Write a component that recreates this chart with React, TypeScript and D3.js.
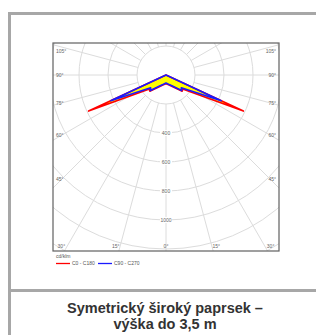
import { useEffect, useRef } from "react";
import * as d3 from "d3";

// photometric data, angle from nadir (deg) -> cd/klm
const angles = [0, 15, 30, 45, 50, 65, 70, 90];
const c0c180 = [60, 70, 93, 158, 150, 589, 0, 0];
const c90c270 = [55, 66, 88, 152, 138, 420, 0, 0];

const ringValues = [200, 400, 600, 800, 1000, 1200, 1400];
const ringLabels = [400, 600, 800, 1000];
const sideAngles = [45, 60, 75, 90, 105];
const bottomAngles = [30, 15, 0, 15, 30];
const bottomSides = [-1, -1, 0, 1, 1];

const unitLabel = "cd/klm";
const seriesNames = ["C0 - C180", "C90 - C270"];
const titleLines = ["Symetrický široký paprsek –", "výška do 3,5 m"];

export default function App() {
  const svgRef = useRef<SVGSVGElement>(null);

  useEffect(() => {
    if (!svgRef.current) return;
    const svg = d3.select(svgRef.current);
    svg.selectAll("*").remove();

    const W = 316;
    const H = 335;
    const box = { left: 53, right: 279, top: 43, bottom: 251 };
    const cx = 166;
    const cy = 75;
    const r = d3.scaleLinear().domain([0, 200]).range([0, 29]);
    const rad = (deg: number) => (deg * Math.PI) / 180;
    const font = "'Liberation Sans', Arial, sans-serif";
    const small = 5;

    // outer frame
    const frame = svg.append("g").attr("fill", "none").attr("stroke", "#a7a7a7").attr("stroke-width", 3);
    frame.append("line").attr("x1", 8).attr("x2", W + 2).attr("y1", 13.5).attr("y2", 13.5);
    frame.append("line").attr("x1", 9.5).attr("x2", 9.5).attr("y1", 12).attr("y2", H + 2);
    frame.append("line").attr("x1", 8).attr("x2", W + 2).attr("y1", 290.5).attr("y2", 290.5);

    svg.append("defs").append("clipPath").attr("id", "plotClip")
      .append("rect")
      .attr("x", box.left).attr("y", box.top)
      .attr("width", box.right - box.left).attr("height", box.bottom - box.top);

    const plot = svg.append("g").attr("clip-path", "url(#plotClip)");

    // grid rings
    plot.append("g").selectAll("circle").data(ringValues).join("circle")
      .attr("cx", cx).attr("cy", cy).attr("r", (d) => r(d))
      .attr("fill", "none").attr("stroke", "#dcdcdc").attr("stroke-width", 1);

    // radial lines every 15 deg
    const spokes = d3.range(0, 360, 15);
    plot.append("g").selectAll("line").data(spokes).join("line")
      .attr("x1", (d) => cx + r(200) * Math.sin(rad(d)))
      .attr("y1", (d) => cy + r(200) * Math.cos(rad(d)))
      .attr("x2", (d) => cx + r(2000) * Math.sin(rad(d)))
      .attr("y2", (d) => cy + r(2000) * Math.cos(rad(d)))
      .attr("stroke", "#dcdcdc").attr("stroke-width", 1);

    // curves: left half (C180 / C270) then right half (C0 / C90)
    const buildPts = (vals: number[]) => {
      const left = angles.map((a, i) => [Math.PI + rad(a), r(vals[i])] as [number, number]).reverse();
      const right = angles.map((a, i) => [Math.PI - rad(a), r(vals[i])] as [number, number]);
      return left.concat(right);
    };
    const radial = d3.lineRadial<[number, number]>()
      .angle((d) => d[0])
      .radius((d) => d[1])
      .curve(d3.curveLinearClosed);

    const curves = plot.append("g").attr("transform", `translate(${cx},${cy})`);
    curves.append("path").attr("d", radial(buildPts(c0c180))).attr("fill", "#ffff00").attr("stroke", "none");
    curves.append("path").attr("d", radial(buildPts(c0c180)))
      .attr("fill", "none").attr("stroke", "#ff0000").attr("stroke-width", 1.6).attr("stroke-linejoin", "round");
    curves.append("path").attr("d", radial(buildPts(c90c270)))
      .attr("fill", "none").attr("stroke", "#1a1aff").attr("stroke-width", 1.6).attr("stroke-linejoin", "round");

    // ring value labels on 0 deg line
    const rl = plot.append("g").selectAll("g").data(ringLabels).join("g")
      .attr("transform", (d) => `translate(${cx},${cy + r(d)})`);
    rl.append("rect").attr("x", -6).attr("y", -3).attr("width", 12).attr("height", 6).attr("fill", "#fff");
    rl.append("text").text((d) => d)
      .attr("text-anchor", "middle").attr("dy", "0.35em")
      .attr("font-family", font).attr("font-size", small).attr("fill", "#666");

    // side angle labels
    const sideDx = 104;
    const sideY = (a: number) => Math.max(box.top + 8, cy + sideDx / Math.tan(rad(a)));
    const lbl = svg.append("g").attr("font-family", font).attr("font-size", small).attr("fill", "#666");
    lbl.selectAll("text.l").data(sideAngles).join("text").attr("class", "l")
      .attr("x", box.left + 3).attr("y", (d) => sideY(d)).attr("dy", "0.35em")
      .text((d) => `${d}°`);
    lbl.selectAll("text.r").data(sideAngles).join("text").attr("class", "r")
      .attr("x", box.right - 3).attr("y", (d) => sideY(d)).attr("dy", "0.35em")
      .attr("text-anchor", "end")
      .text((d) => `${d}°`);
    lbl.selectAll("text.b").data(bottomAngles).join("text").attr("class", "b")
      .attr("x", (d, i) => cx + bottomSides[i] * ((box.bottom - cy) * Math.tan(rad(d)) + 3))
      .attr("y", box.bottom - 3.5)
      .attr("text-anchor", "middle")
      .text((d) => `${d}°`);

    // plot border
    svg.append("rect")
      .attr("x", box.left).attr("y", box.top)
      .attr("width", box.right - box.left).attr("height", box.bottom - box.top)
      .attr("fill", "none").attr("stroke", "#606060").attr("stroke-width", 1.2);

    // legend
    const lg = svg.append("g").attr("font-family", font).attr("font-size", small).attr("fill", "#555");
    lg.append("text").attr("x", box.left + 3).attr("y", 258).text(unitLabel);
    const legendItems = [
      { name: seriesNames[0], color: "#ff0000", x: 56 },
      { name: seriesNames[1], color: "#1a1aff", x: 98 },
    ];
    const li = lg.selectAll("g.item").data(legendItems).join("g").attr("class", "item")
      .attr("transform", (d) => `translate(${d.x},263.5)`);
    li.append("line").attr("x1", 0).attr("x2", 14).attr("stroke", (d) => d.color).attr("stroke-width", 1.3);
    li.append("text").attr("x", 16).attr("dy", "0.35em").text((d) => d.name);

    // title
    svg.append("g").selectAll("text").data(titleLines).join("text")
      .attr("x", 165).attr("y", (_, i) => 313 + i * 16)
      .attr("text-anchor", "middle")
      .attr("font-family", "'Liberation Sans Narrow', 'Arial Narrow', sans-serif")
      .attr("font-weight", "bold").attr("font-size", 14.5).attr("fill", "#333")
      .text((d) => d);
  }, []);

  return (
    <svg
      ref={svgRef}
      width={316}
      height={335}
      style={{ position: "absolute", left: 0, top: 0, background: "#fff" }}
    />
  );
}
